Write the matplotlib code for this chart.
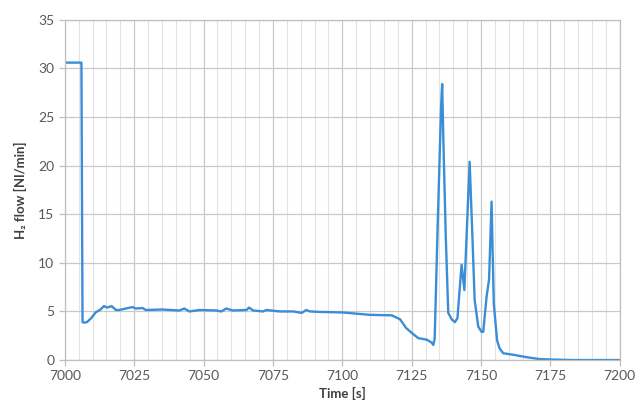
import matplotlib
matplotlib.use("Agg")
import matplotlib.pyplot as plt
from matplotlib.ticker import MultipleLocator

time_s = [7000, 7006.0, 7006.4, 7006.9, 7008.0, 7009.5, 7011.1, 7012.9, 7014.1, 7015.3, 7016.9,
          7018.4, 7019.6, 7022.0, 7024.4, 7025.6, 7028.0, 7029.2, 7035.0, 7041.3, 7043.1,
          7044.9, 7048.6, 7054.6, 7056.4, 7058.2, 7060.6, 7065.5, 7066.4, 7067.9, 7071.5,
          7072.7, 7077.5, 7082.4, 7085.4, 7087.0, 7088.4, 7092.0, 7100.0, 7110.0, 7117.8,
          7120.8, 7123.0, 7125.0, 7127.4, 7130.4, 7132.2, 7132.8, 7133.3, 7134.4, 7135.6,
          7136.0, 7136.4, 7137.3, 7138.2, 7139.4, 7140.6, 7141.5, 7143.0, 7144.0, 7145.9,
          7146.9, 7147.7, 7149.0, 7150.2, 7150.8, 7152.0, 7152.9, 7153.8, 7154.6, 7155.8,
          7156.7, 7158.0, 7161.5, 7166.3, 7171.0, 7175.8, 7183.0, 7200.0]
h2_flow = [30.6, 30.6, 3.9, 3.85, 3.9, 4.3, 4.9, 5.2, 5.55, 5.4, 5.55,
           5.15, 5.15, 5.3, 5.45, 5.3, 5.35, 5.15, 5.2, 5.1, 5.3,
           5.0, 5.15, 5.1, 5.0, 5.3, 5.1, 5.15, 5.4, 5.1, 5.0,
           5.15, 5.0, 5.0, 4.85, 5.15, 5.0, 4.95, 4.9, 4.65, 4.6,
           4.2, 3.3, 2.8, 2.25, 2.1, 1.8, 1.55, 2.2, 14.0, 26.0,
           28.4, 23.0, 12.7, 4.85, 4.2, 3.9, 4.3, 9.8, 7.2, 20.4,
           12.7, 6.2, 3.45, 2.9, 2.9, 6.5, 8.3, 16.3, 5.8, 2.0,
           1.2, 0.7, 0.55, 0.3, 0.1, 0.05, 0.0, 0.0]

plt.rcParams['font.family'] = ['Lato', 'DejaVu Sans']

fig = plt.figure(figsize=(6.35, 4.05), dpi=100)
ax = fig.add_axes([0.102, 0.111, 0.874, 0.84])

ax.plot(time_s, h2_flow, color='#3a8dd6', lw=1.7, solid_joinstyle='round')

ax.set_xlim(7000, 7200)
ax.set_ylim(0, 35)
ax.xaxis.set_major_locator(MultipleLocator(25))
ax.xaxis.set_minor_locator(MultipleLocator(5))
ax.yaxis.set_major_locator(MultipleLocator(5))

ax.grid(which='major', axis='both', color='#c9c9c9', lw=0.9)
ax.grid(which='minor', axis='x', color='#e3e3e3', lw=0.8)
ax.set_axisbelow(True)

for s in ax.spines.values():
    s.set_color('#bfbfbf')
    s.set_linewidth(0.9)

ax.tick_params(axis='both', which='major', labelsize=10, labelcolor='#595959',
               color='#bfbfbf', length=4, width=0.9)
ax.tick_params(axis='x', which='minor', length=0)

ax.set_xlabel('Time [s]', fontsize=9.5, fontweight='bold', color='#404040', labelpad=3)
ax.set_ylabel('H\u2082 flow [Nl/min]', fontsize=9.5, fontweight='bold', color='#404040', labelpad=8)

fig.savefig('out.png', dpi=100)
